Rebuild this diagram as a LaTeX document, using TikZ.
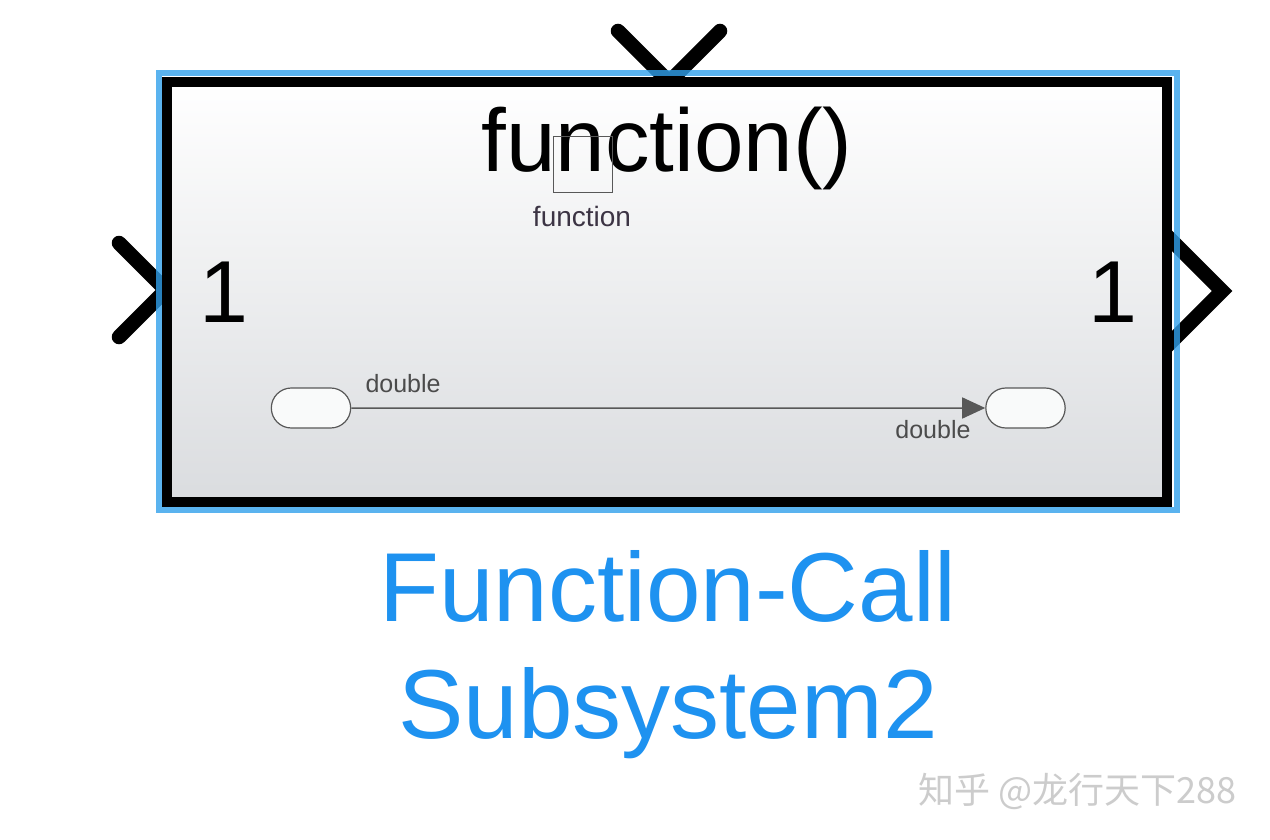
\documentclass[tikz,border=0pt]{standalone}
\usepackage{fontspec}
\setmainfont{Liberation Sans}
\newfontfamily\cjkfont{Noto Sans CJK SC}
\usetikzlibrary{calc, positioning, arrows.meta, shapes.misc}
\definecolor{frameblue}{RGB}{49,161,236}
\definecolor{nameblue}{RGB}{30,146,240}
\definecolor{blockgray}{RGB}{218,220,223}
\definecolor{wiregray}{RGB}{88,88,88}
\definecolor{labelgray}{RGB}{60,52,68}

\begin{document}
\begin{tikzpicture}[x=1pt, y=-1pt]
        \useasboundingbox [fill=white] (0,0) rectangle (1270,840);

        \coordinate (B) at (667, 292.25);

        % port chevrons
        \tikzstyle{port} = [line width=14.5pt, line cap=round, line join=miter];
        \draw [port] (618, 31) -- (669, 82) -- (720, 31);
        \draw [port] (119, 243) -- (166, 290) -- (119, 337);
        \draw [port, line cap=butt] (1165, 234) -- (1222, 291) -- (1165, 348);

        % block
        \draw [frameblue, opacity=0.8, line width=6pt] (159, 73.5) rectangle (1176.5, 510);
        \node (block) [draw, line width=10pt, inner sep=0pt,
            minimum width=1000pt, minimum height=419.5pt,
            top color=white, bottom color=blockgray] at (B) { };

        \node (title) [anchor=base, font=\fontsize{89}{100}\selectfont] at (667, 172) {function()};

        \node (trig) [draw=wiregray, line width=1pt, inner sep=0pt,
            minimum width=59pt, minimum height=56pt] at (582.5, 165) { };
        \node (trigl) [anchor=base, text=labelgray, font=\fontsize{28}{30}\selectfont] at (582, 226) {function};

        \tikzstyle{num} = [anchor=base, font=\fontsize{88}{100}\selectfont];
        \node (inl)  [num] at (224, 322)  {1};
        \node (outl) [num] at (1113, 322) {1};

        % signal ports and wire
        \tikzstyle{oval} = [draw=wiregray, line width=1.2pt, fill=white!85!blockgray,
            rounded rectangle, minimum width=86pt, minimum height=40pt];
        \node (inport)  [oval] at (311, 408) { };
        \node (outport) [oval] at (1025.5, 408) { };

        \draw [wiregray, line width=1.5pt, -{Triangle[length=23pt, width=21pt]}] (inport) -- (outport);

        \tikzstyle{sig} = [text=wiregray!85!black, font=\fontsize{25}{28}\selectfont];
        \node (sigin)  [sig, anchor=base west] at (362, 392) {double};
        \node (sigout) [sig, anchor=base east] at (974, 438) {double};

        % block name
        \tikzstyle{bname} = [anchor=base, text=nameblue, font=\fontsize{98}{115}\selectfont];
        \node (name1) [bname] at (668, 621) {Function-Call};
        \node (name2) [bname] at (668, 738) {Subsystem2};

        \node (mark) [anchor=base east, text=black!20, font=\cjkfont\fontsize{36}{40}\selectfont] at (1240, 803) {知乎 @龙行天下288};
    \end{tikzpicture}
\end{document}
